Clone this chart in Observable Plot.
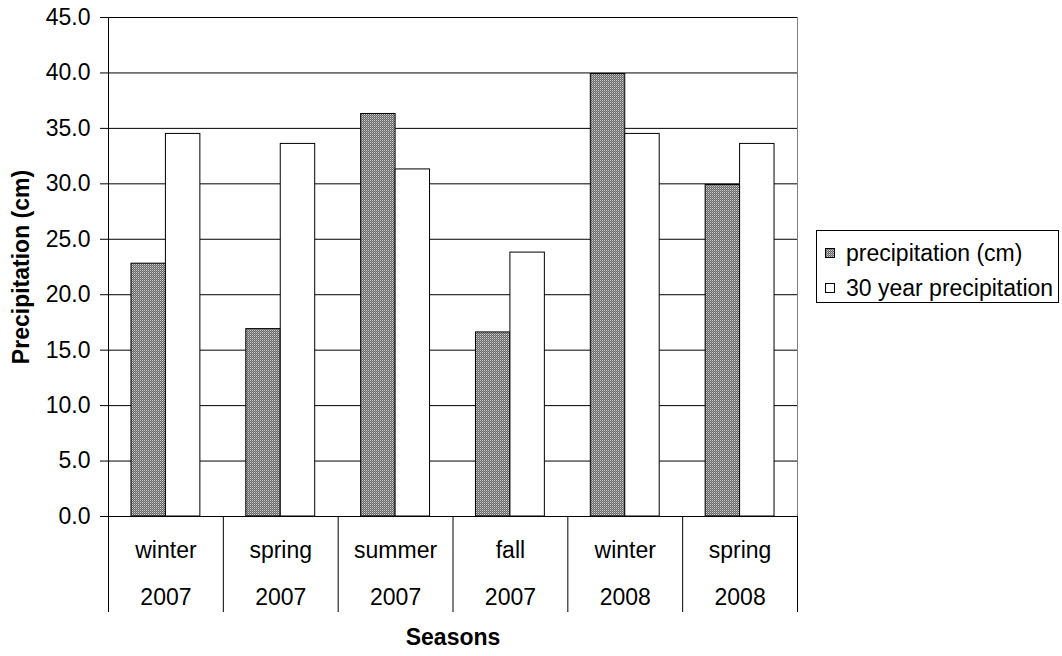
<!DOCTYPE html>
<html><head><meta charset="utf-8">
<script src="https://cdn.jsdelivr.net/npm/d3@7"></script>
<script src="https://cdn.jsdelivr.net/npm/@observablehq/plot@0.6"></script>
<style>
body{margin:0;background:#fff;font-family:"Liberation Sans",Arial,sans-serif;}
#wrap{position:relative;width:1062px;height:656px;}
#legend{position:absolute;left:816px;top:230px;width:241px;height:71px;border:1px solid #000;background:#fff;font-size:23px;color:#000;}
#legend .row{position:absolute;left:8px;height:26px;display:flex;align-items:center;white-space:nowrap;}
g[aria-label="y-axis label"] text{font-weight:bold;}
</style></head>
<body><div id="wrap"><div id="chart"></div><div id="legend"></div></div>
<script>
const categories = ["winter","spring","summer","fall","winter","spring"];
const years = ["2007","2007","2007","2007","2008","2008"];
const precipitation = [22.8,16.9,36.3,16.6,39.9,29.9];
const thirtyYear = [34.5,33.6,31.3,23.8,34.5,33.6];
const seriesNames = ["precipitation (cm)","30 year precipitation"];
const yTicks = [0,5,10,15,20,25,30,35,40,45];
const xTitle = "Seasons";
const yTitle = "Precipitation (cm)";

const idx = d3.range(categories.length);
const fmt = d3.format(".1f");
const font = '"Liberation Sans", Arial, sans-serif';

const plot = Plot.plot({
  width: 1062, height: 656,
  marginLeft: 108, marginRight: 265, marginTop: 17, marginBottom: 140,
  style: {fontFamily: font, fontSize: "23px", color: "#000", background: "#fff", overflow: "visible"},
  x: {type: "linear", domain: [0, categories.length], axis: null},
  y: {domain: [0, 45]},
  marks: [
    Plot.ruleY(yTicks, {stroke: "#000", strokeWidth: 1, strokeOpacity: 1}),
    Plot.rect(idx, {x1: i => i + 0.2, x2: i => i + 0.5, y1: 0, y2: i => precipitation[i], fill: "url(#checker)", stroke: "#000", strokeWidth: 1}),
    Plot.rect(idx, {x1: i => i + 0.5, x2: i => i + 0.8, y1: 0, y2: i => thirtyYear[i], fill: "#fff", stroke: "#000", strokeWidth: 1}),
    Plot.ruleX([categories.length], {stroke: "#808080", strokeWidth: 1}),
    Plot.ruleX([0], {stroke: "#000", strokeWidth: 1}),
    Plot.ruleX(d3.range(categories.length + 1), {insetTop: 499, insetBottom: -96, stroke: "#000", strokeWidth: 1}),
    Plot.axisY({ticks: yTicks, tickSize: 8, tickPadding: 10, tickFormat: fmt, fontSize: 23,
      label: yTitle, labelAnchor: "center", labelArrow: "none", labelOffset: 96}),
    Plot.text(idx, {x: i => i + 0.5, y: 0, text: i => categories[i], dy: 34, fontSize: 23}),
    Plot.text(idx, {x: i => i + 0.5, y: 0, text: i => years[i], dy: 81, fontSize: 23}),
    Plot.text([xTitle], {x: categories.length / 2, y: 0, text: d => d, dy: 121, fontSize: 23, fontWeight: "bold"})
  ]
});

const svg = d3.select(plot);
const defs = svg.insert("defs", ":first-child");
const pat = defs.append("pattern").attr("id", "checker").attr("patternUnits", "userSpaceOnUse")
  .attr("width", 2).attr("height", 2);
pat.append("rect").attr("width", 2).attr("height", 2).attr("fill", "#666");
pat.append("rect").attr("x", 0).attr("y", 0).attr("width", 1).attr("height", 1).attr("fill", "#d0d0d0");
pat.append("rect").attr("x", 1).attr("y", 1).attr("width", 1).attr("height", 1).attr("fill", "#999");
document.getElementById("chart").appendChild(plot);

const legend = d3.select("#legend");
const fills = ["url(#checker)", "#fff"];
seriesNames.forEach((name, k) => {
  const row = legend.append("div").attr("class", "row").style("top", (9 + k * 35) + "px");
  const sw = row.append("svg").attr("width", 10).attr("height", 10).style("margin-right", "11px");
  sw.append("rect").attr("x", 0.5).attr("y", 0.5).attr("width", 9).attr("height", 9)
    .attr("fill", fills[k]).attr("stroke", "#000");
  row.append("span").text(name);
});
</script>
</body></html>
